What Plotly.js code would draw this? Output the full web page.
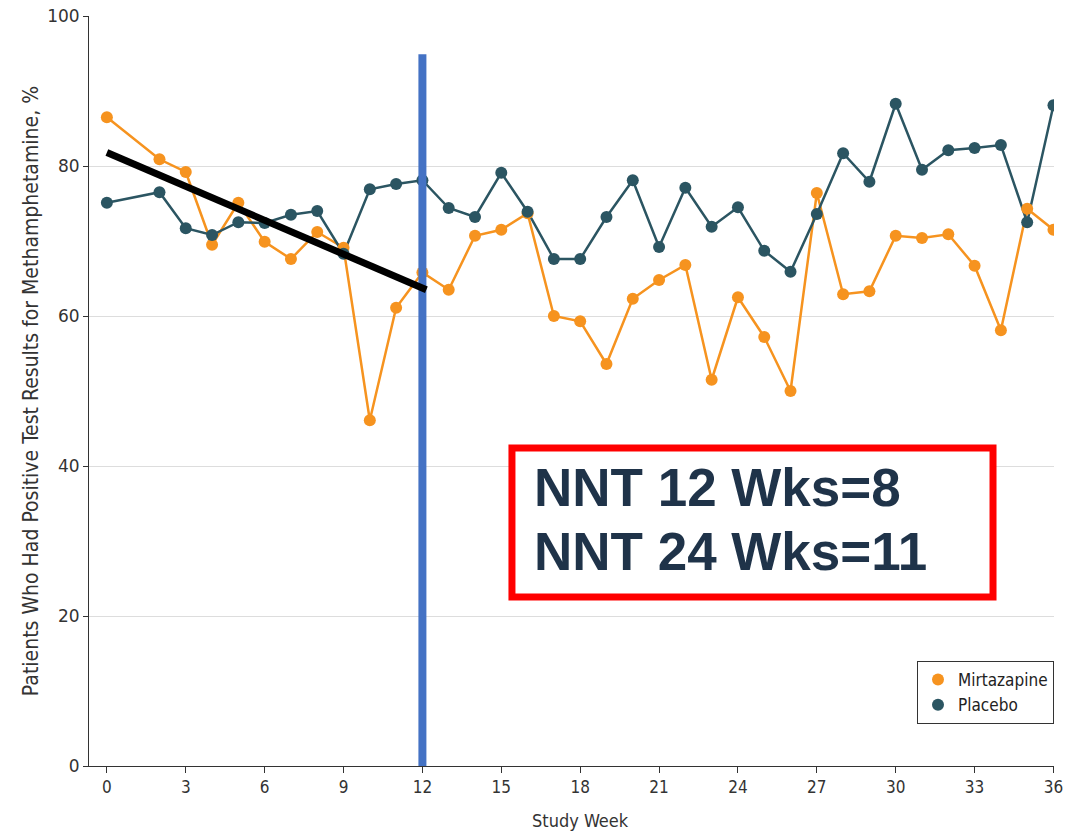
<!DOCTYPE html>
<html>
<head>
<meta charset="utf-8">
<script src="https://cdn.plot.ly/plotly-3.0.1.min.js"></script>
<style>
  html, body { margin: 0; padding: 0; background: #ffffff; }
  #chart { width: 1076px; height: 834px; }
</style>
</head>
<body>
<div id="chart"></div>
<script>
// ---- data ----
const weeks = [0, 2, 3, 4, 5, 6, 7, 8, 9, 10, 11, 12, 13, 14, 15, 16, 17, 18, 19, 20,
               21, 22, 23, 24, 25, 26, 27, 28, 29, 30, 31, 32, 33, 34, 35, 36];
const mirtazapine = [86.5, 80.9, 79.2, 69.5, 75.1, 69.9, 67.6, 71.2, 69.1, 46.1, 61.1, 65.8,
                     63.5, 70.7, 71.5, 73.7, 60.0, 59.3, 53.6, 62.3, 64.8, 66.8, 51.5, 62.5,
                     57.2, 50.0, 76.4, 62.9, 63.3, 70.7, 70.4, 70.9, 66.7, 58.1, 74.3, 71.5];
const placebo = [75.1, 76.5, 71.7, 70.8, 72.5, 72.4, 73.5, 74.0, 68.3, 76.9, 77.6, 78.1,
                 74.4, 73.2, 79.1, 73.9, 67.6, 67.6, 73.2, 78.1, 69.2, 77.1, 71.9, 74.5,
                 68.7, 65.9, 73.6, 81.7, 77.9, 88.3, 79.5, 82.1, 82.4, 82.8, 72.5, 88.1];
const trendWeeks = [0, 12.15];
const trendValues = [81.8, 63.5];
const markerWeek = [12, 12];
const markerRange = [0, 94.9];
const seriesNames = ['Mirtazapine', 'Placebo'];
const nntLabels = ['NNT 12 Wks=8', 'NNT 24 Wks=11'];
const xTicks = [0, 3, 6, 9, 12, 15, 18, 21, 24, 27, 30, 33, 36];
const yTicks = [0, 20, 40, 60, 80, 100];
const xTitle = 'Study Week';
const yTitle = 'Patients Who Had Positive Test Results for Methamphetamine, %';

// ---- styles ----
const ORANGE = '#F6931F';
const TEAL = '#2B5562';
const COND = '"Liberation Sans Narrow", "DejaVu Sans Condensed", "Roboto Condensed", "Liberation Sans", sans-serif';

const traces = [
  { x: weeks, y: mirtazapine, mode: 'lines', line: { color: ORANGE, width: 2.5 },
    showlegend: false, hoverinfo: 'skip' },
  { x: weeks, y: placebo, mode: 'lines', line: { color: TEAL, width: 2.5 },
    showlegend: false, hoverinfo: 'skip' },
  { x: weeks, y: mirtazapine, mode: 'markers', name: seriesNames[0],
    marker: { color: ORANGE, size: 12 } },
  { x: weeks, y: placebo, mode: 'markers', name: seriesNames[1],
    marker: { color: TEAL, size: 12 } },
  { x: markerWeek, y: markerRange, mode: 'lines', line: { color: '#4472C4', width: 8 },
    showlegend: false, hoverinfo: 'skip' },
  { x: trendWeeks, y: trendValues, mode: 'lines', line: { color: '#000000', width: 7 },
    showlegend: false, hoverinfo: 'skip' }
];

const layout = {
  width: 1076, height: 834,
  margin: { l: 89, r: 22, t: 16, b: 68 },
  paper_bgcolor: '#ffffff', plot_bgcolor: '#ffffff',
  showlegend: true,
  legend: {
    x: 1, xanchor: 'right', y: 0.056, yanchor: 'bottom',
    bordercolor: '#333333', borderwidth: 1, bgcolor: '#ffffff',
    font: { family: COND, size: 17, color: '#222222' },
    traceorder: 'normal', itemwidth: 30, tracegroupgap: 0
  },
  xaxis: {
    range: [-0.68, 36.02], tickvals: xTicks, ticktext: xTicks.map(String),
    showgrid: false, zeroline: false,
    showline: true, linecolor: '#333333', linewidth: 1,
    ticks: 'outside', ticklen: 6, tickcolor: '#333333',
    tickfont: { family: COND, size: 17, color: '#333333' }
  },
  yaxis: {
    range: [0, 100], tickvals: yTicks, ticktext: yTicks.map(String),
    showgrid: true, gridcolor: '#dddddd', gridwidth: 1, zeroline: false,
    showline: true, linecolor: '#333333', linewidth: 1,
    ticks: 'outside', ticklen: 5, tickcolor: '#333333',
    tickfont: { family: 'DejaVu Sans, sans-serif', size: 17, color: '#333333' },
    title: { text: yTitle, font: { family: COND, size: 21, color: '#333333' }, standoff: 2 }
  },
  shapes: [
    { type: 'rect', xref: 'paper', yref: 'paper', layer: 'above',
      x0: 0.4383, x1: 0.9368, y0: 0.2253, y1: 0.424,
      line: { color: '#FF0000', width: 7 }, fillcolor: '#ffffff' }
  ],
  annotations: [
    { xref: 'paper', yref: 'paper', x: 0.5094, xanchor: 'center', y: -0.072, yanchor: 'middle',
      text: xTitle, showarrow: false,
      font: { family: COND, size: 18, color: '#333333' } },
    { xref: 'paper', yref: 'paper', x: 0.4591, xanchor: 'left', y: (766 - 487) / 750, yanchor: 'middle',
      text: '<b>' + nntLabels[0] + '</b>', showarrow: false,
      font: { family: '"Liberation Sans", Arial, sans-serif', size: 53, color: '#1F3349' } },
    { xref: 'paper', yref: 'paper', x: 0.4591, xanchor: 'left', y: (766 - 551) / 750, yanchor: 'middle',
      text: '<b>' + nntLabels[1] + '</b>', showarrow: false,
      font: { family: '"Liberation Sans", Arial, sans-serif', size: 53, color: '#1F3349' } }
  ]
};

Plotly.newPlot('chart', traces, layout, { displayModeBar: false, staticPlot: true });
</script>
</body>
</html>
